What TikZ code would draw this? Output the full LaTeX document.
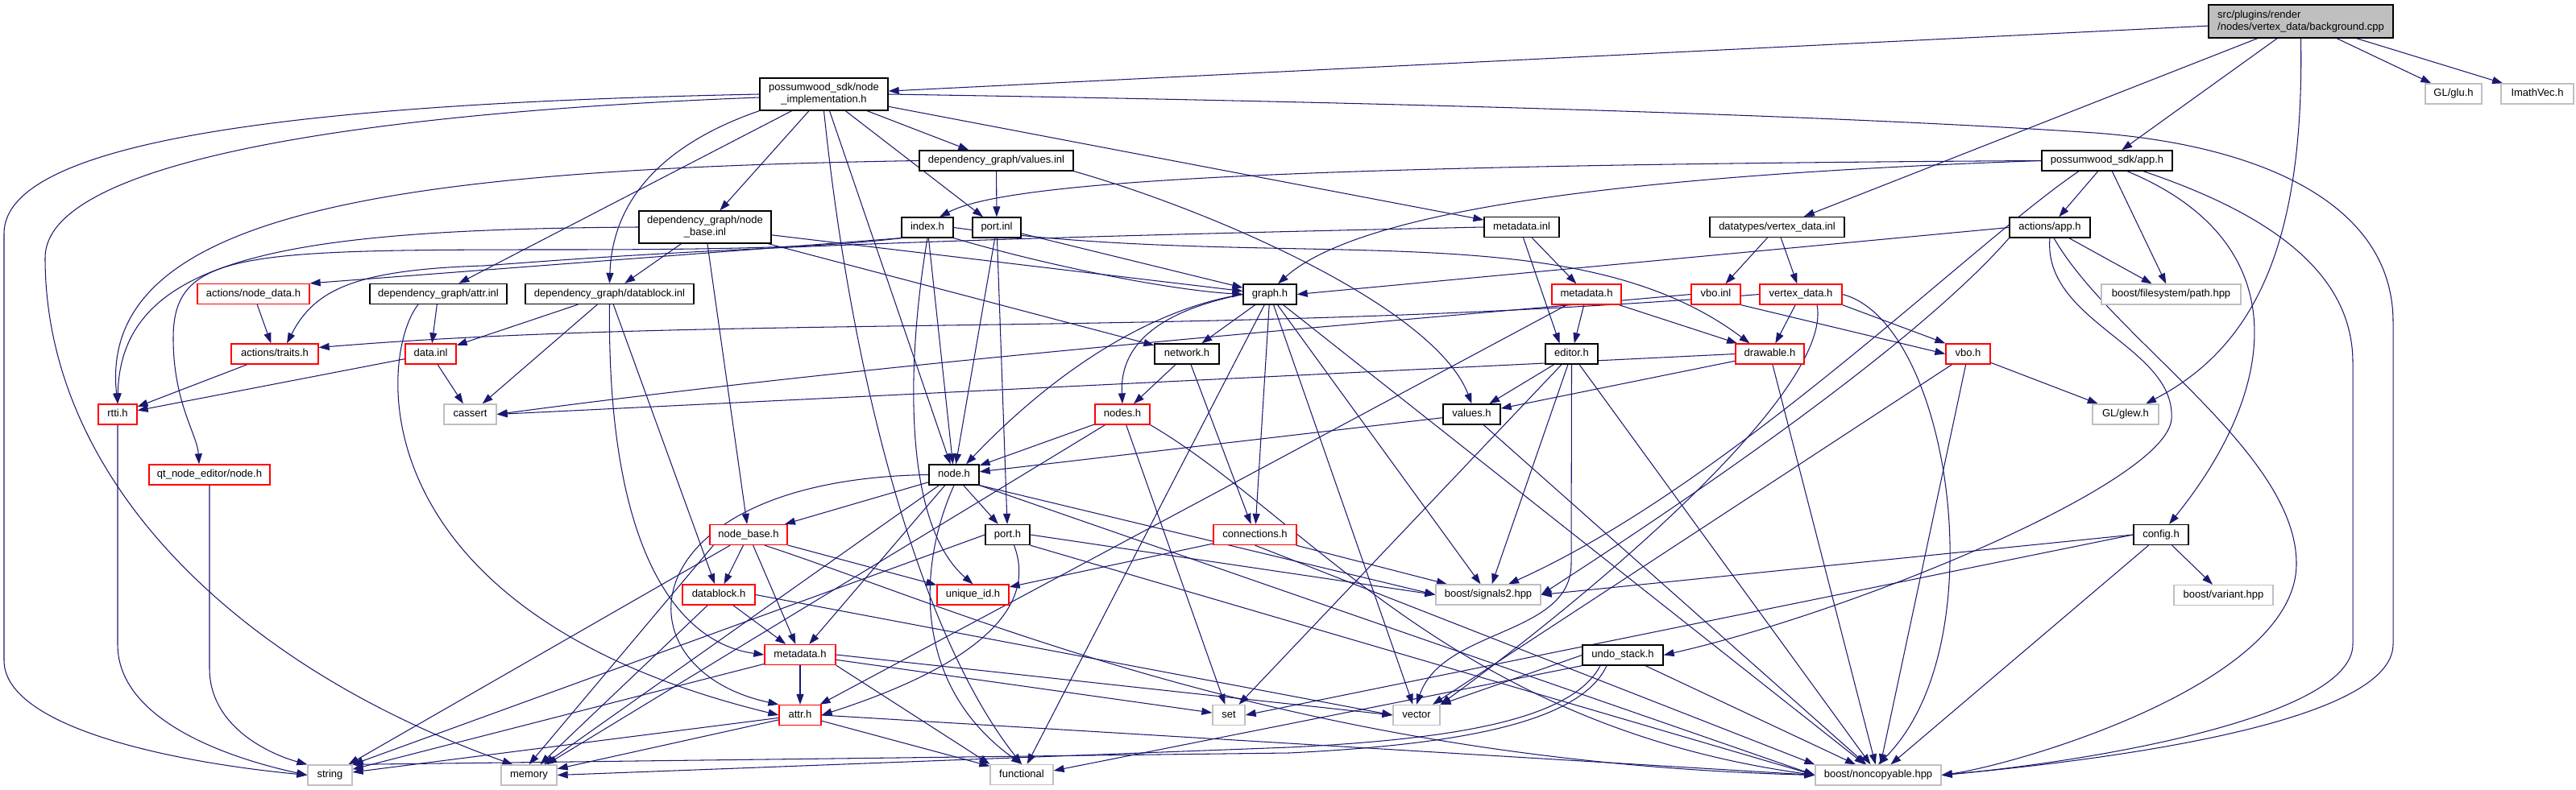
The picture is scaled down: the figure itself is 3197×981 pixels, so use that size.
\documentclass[tikz,border=0pt]{standalone}
\usepackage{fontspec}
\setmainfont{Liberation Sans}
\usetikzlibrary{arrows.meta}
\definecolor{navy}{HTML}{191970}
\definecolor{lgray}{HTML}{BFBFBF}
\definecolor{redc}{HTML}{FF0000}
\pgfdeclarelayer{edgelayer}
\pgfsetlayers{edgelayer,main}
\newcommand{\fs}{\fontsize{13}{15}\selectfont}
\tikzset{
  conn/.style={draw=navy, line width=1.05pt, -{Triangle[length=13pt,width=9pt]}},
  basebox/.style={draw=black, line width=1.3pt, fill=white, inner sep=0pt, font=\fs, minimum height=25pt},
  kbox/.style={basebox, text height=9.4pt, text depth=2.6pt},
  rbox/.style={kbox, draw=redc},
  gbox/.style={kbox, draw=lgray},
  kbox2/.style={basebox, minimum height=40pt, align=center},
  rootbox/.style={basebox, fill=lgray, minimum height=41pt, align=left},
}
\begin{document}
\begin{tikzpicture}[x=1pt,y=-1pt]
\useasboundingbox (0,0) rectangle (3197,981);

\node[rootbox, minimum width=229pt] (bg) at (2855.5,26.5) {src/plugins/render\\/nodes/vertex\_data/background.cpp};
\node[kbox2, minimum width=159pt] (ni) at (1022.5,117) {possumwood\_sdk/node\\\_implementation.h};
\node[kbox, minimum width=191pt] (valinl) at (1236.5,199.5) {dependency\_graph/values.inl};
\node[kbox2, minimum width=164pt] (nbinl) at (875,282) {dependency\_graph/node\\\_base.inl};
\node[kbox, minimum width=64pt] (ix) at (1151,282.5) {index.h};
\node[kbox, minimum width=60pt] (portinl) at (1237,282.5) {port.inl};
\node[kbox, minimum width=66pt] (graph) at (1576,365.5) {graph.h};
\node[kbox, minimum width=80pt] (network) at (1473,439.5) {network.h};
\node[kbox, minimum width=93pt] (metainl) at (1888.5,282) {metadata.inl};
\node[kbox, minimum width=167pt] (vdi) at (2205.5,282) {datatypes/vertex\_data.inl};
\node[rbox, minimum width=86pt] (metah2) at (1969,365.5) {metadata.h};
\node[rbox, minimum width=61pt] (vboinl) at (2129.5,365.5) {vbo.inl};
\node[rbox, minimum width=102pt] (vdh) at (2235,365.5) {vertex\_data.h};
\node[kbox, minimum width=65pt] (editor) at (1950.5,439.5) {editor.h};
\node[rbox, minimum width=85pt] (drawable) at (2196.5,439.5) {drawable.h};
\node[kbox, minimum width=162pt] (app) at (2615,199.5) {possumwood\_sdk/app.h};
\node[gbox, minimum width=70pt] (glu) at (3045,116.5) {GL/glu.h};
\node[gbox, minimum width=90pt] (imath) at (3149,116.5) {ImathVec.h};
\node[kbox, minimum width=100pt] (actapp) at (2544,282.5) {actions/app.h};
\node[gbox, minimum width=173pt] (path) at (2694.5,365.5) {boost/filesystem/path.hpp};
\node[rbox, minimum width=55pt] (vboh) at (2442.5,439.5) {vbo.h};
\node[gbox, minimum width=82pt] (glew) at (2638,514.5) {GL/glew.h};
\node[kbox, minimum width=68pt] (config) at (2682,664) {config.h};
\node[gbox, minimum width=123pt] (variant) at (2759.5,739) {boost/variant.hpp};
\node[kbox, minimum width=100pt] (undo) at (2014,813.5) {undo\_stack.h};
\node[gbox, minimum width=156pt] (noncopy) at (2331,962.5) {boost/noncopyable.hpp};
\node[gbox, minimum width=58pt] (vector) at (1758,888) {vector};
\node[gbox, minimum width=130pt] (signals2) at (1847,738.5) {boost/signals2.hpp};
\node[kbox, minimum width=71pt] (valuesh) at (1826.5,514.5) {values.h};
\node[rbox, minimum width=103pt] (connections) at (1557.5,664) {connections.h};
\node[rbox, minimum width=68pt] (nodes) at (1393,514.5) {nodes.h};
\node[kbox, minimum width=62pt] (nodeh) at (1184,589.5) {node.h};
\node[kbox, minimum width=55pt] (porth) at (1250.5,664) {port.h};
\node[rbox, minimum width=96pt] (nodebaseh) at (929,664) {node\_base.h};
\node[rbox, minimum width=90pt] (datablockh) at (892,738.5) {datablock.h};
\node[rbox, minimum width=89pt] (uniqueid) at (1207.5,738.5) {unique\_id.h};
\node[rbox, minimum width=88pt] (metah1) at (993,813) {metadata.h};
\node[rbox, minimum width=52pt] (attrh) at (993,888) {attr.h};
\node[gbox, minimum width=40pt] (set) at (1525,888) {set};
\node[gbox, minimum width=78pt] (functional) at (1268,962) {functional};
\node[gbox, minimum width=55pt] (string) at (409.5,962.5) {string};
\node[gbox, minimum width=69pt] (memory) at (656.5,962.5) {memory};
\node[rbox, minimum width=48pt] (rtti) at (146,514.5) {rtti.h};
\node[gbox, minimum width=65pt] (cassert) at (583.5,514.5) {cassert};
\node[rbox, minimum width=150pt] (qtnode) at (260,589.5) {qt\_node\_editor/node.h};
\node[rbox, minimum width=139pt] (nodedata) at (314.5,365) {actions/node\_data.h};
\node[kbox, minimum width=170pt] (attrinl) at (544,365) {dependency\_graph/attr.inl};
\node[kbox, minimum width=209pt] (dbinl) at (756.5,365) {dependency\_graph/datablock.inl};
\node[rbox, minimum width=108pt] (traits) at (341,439.5) {actions/traits.h};
\node[rbox, minimum width=63pt] (datainl) at (534.5,439.5) {data.inl};

\begin{pgfonlayer}{edgelayer}
% background.cpp
\draw[conn] (bg) -- (ni);
\draw[conn] (bg) -- (vdi);
\draw[conn] (bg) -- (app);
\draw[conn] (bg) -- (glu);
\draw[conn] (bg) -- (imath);
\draw[conn] (bg.south) .. controls (2860,300) and (2800,430) .. ([xshift=25pt]glew.north);
% node_implementation.h
\draw[conn] (ni.west) .. controls (400,128) and (5,170) .. (5,290) -- (5,820) .. controls (5,900) and (200,945) .. (string.west);
\draw[conn] ([yshift=-4pt]ni.west) .. controls (450,140) and (56,200) .. (56,320) .. controls (56,600) and (300,830) .. ([xshift=-20pt]memory.north);
\draw[conn] (ni.south) .. controls (1060,500) and (1150,800) .. (functional.north);
\draw[conn] (ni.east) .. controls (1800,128) and (2300,145) .. (2600,165) .. controls (2800,180) and (2970,250) .. (2970,400) -- (2970,800) .. controls (2970,900) and (2600,945) .. (noncopy.east);
\draw[conn] (ni) -- (attrinl);
\draw[conn] (ni.south west) .. controls (820,180) and (760,250) .. (dbinl.north);
\draw[conn] (ni) -- (nbinl);
\draw[conn] (ni) -- (nodeh);
\draw[conn] (ni) -- (portinl);
\draw[conn] (ni) -- (valinl);
\draw[conn] (ni) -- (metainl);
% values.inl
\draw[conn] (valinl.west) .. controls (500,210) and (120,260) .. (rtti.north);
\draw[conn] (valinl) -- (portinl);
\draw[conn] (valinl.south east) .. controls (1500,260) and (1780,380) .. (valuesh.north);
% node_base.inl
\draw[conn] (nbinl.west) .. controls (350,285) and (150,320) .. (rtti.north);
\draw[conn] (nbinl) -- (dbinl);
\draw[conn] (nbinl) -- (nodebaseh);
\draw[conn] (nbinl) -- (graph);
\draw[conn] (nbinl) -- (network);
% index.h
\draw[conn] (ix.south west) -- (nodedata.north east);
\draw[conn] (ix.south west) .. controls (1040,305) and (950,310) .. (700,310) .. controls (300,310) and (215,312) .. (215,420) .. controls (215,500) and (245,540) .. ([xshift=-13pt]qtnode.north);
\draw[conn] (ix) -- (nodeh);
\draw[conn] (ix.south) .. controls (1125,450) and (1120,650) .. (uniqueid.north);
\draw[conn] (ix.south east) .. controls (1300,330) and (1450,360) .. (graph.west);
\draw[conn] (ix.east) .. controls (1600,340) and (1950,260) .. ([xshift=-25pt]drawable.north);
% port.inl
\draw[conn] (portinl) -- (graph);
\draw[conn] (portinl) -- (nodeh);
\draw[conn] (portinl) -- (porth);
% metadata.inl
\draw[conn] (metainl.west) .. controls (1000,300) and (800,315) .. (600,330) .. controls (440,335) and (390,360) .. ([xshift=15pt]traits.north);
\draw[conn] ([xshift=2pt]metainl.south) -- ([xshift=-15pt]editor.north);
\draw[conn] (metainl) -- (metah2);
% vertex_data.inl
\draw[conn] (vdi) -- (vboinl);
\draw[conn] (vdi) -- (vdh);
% possumwood_sdk metadata.h
\draw[conn] (metah2) -- (editor);
\draw[conn] (metah2) -- (drawable);
\draw[conn] (metah2) -- (attrh);
% vbo.inl
\draw[conn] (vboinl.south east) -- (vboh.west);
\draw[conn] (vboinl.west) .. controls (1600,410) and (1100,450) .. (cassert.east);
% vertex_data.h
\draw[conn] (vdh) -- (drawable);
\draw[conn] (vdh.south east) -- (vboh.north west);
\draw[conn] (vdh.west) .. controls (1500,420) and (900,390) .. ([yshift=8pt]traits.east);
\draw[conn] ([xshift=20pt]vdh.south) .. controls (2275,480) and (2000,720) .. (vector.north east);
\draw[conn] (vdh.east) .. controls (2420,400) and (2480,800) .. (noncopy.north);
% drawable.h
\draw[conn] (drawable) -- (valuesh);
\draw[conn] (drawable.west) -- (cassert.east);
\draw[conn] (drawable) -- (noncopy);
% editor.h
\draw[conn] (editor) -- (valuesh);
\draw[conn] (editor) -- (signals2);
\draw[conn] (editor.south) -- (1950,700) .. controls (1950,790) and (1790,780) .. (vector.north);
\draw[conn] (editor) -- (set);
\draw[conn] (editor) -- (noncopy);
% values.h
\draw[conn] (valuesh) -- (nodeh);
\draw[conn] (valuesh) -- (noncopy);
% graph.h
\draw[conn] (graph) -- (network);
\draw[conn] (graph.west) .. controls (1420,390) and (1390,440) .. (nodes.north);
\draw[conn] (graph.west) .. controls (1420,385) and (1300,470) .. ([xshift=15pt]nodeh.north);
\draw[conn] (graph) -- (connections);
\draw[conn] (graph) -- (functional);
\draw[conn] (graph) -- (vector);
\draw[conn] (graph) -- (signals2);
\draw[conn] (graph) -- (noncopy);
% network.h
\draw[conn] (network) -- (nodes);
\draw[conn] (network) -- (connections);
% nodes.h
\draw[conn] (nodes) -- (nodeh);
\draw[conn] (nodes) -- (memory);
\draw[conn] (nodes) -- (set);
\draw[conn] (nodes.south east) .. controls (1620,640) and (1800,900) .. (noncopy.west);
% node.h
\draw[conn] (nodeh) -- (nodebaseh);
\draw[conn] (nodeh) -- (porth);
\draw[conn] (nodeh) -- (metah1);
\draw[conn] (nodeh.west) .. controls (780,595) and (760,830) .. (attrh.north west);
\draw[conn] (nodeh) -- (memory);
\draw[conn] (nodeh.south) .. controls (1140,700) and (1130,850) .. (functional.north);
\draw[conn] (nodeh.south east) -- (signals2.west);
\draw[conn] (nodeh.south east) -- (noncopy.west);
% port.h
\draw[conn] (porth.west) -- (string.north east);
\draw[conn] ([xshift=8pt]porth.south) .. controls (1290,760) and (1200,830) .. (attrh.east);
\draw[conn] (porth.east) -- (signals2.west);
\draw[conn] (porth.south east) -- (noncopy.west);
% node_base.h
\draw[conn] (nodebaseh) -- (string);
\draw[conn] ([xshift=5pt]nodebaseh.south west) -- (memory.north);
\draw[conn] (nodebaseh) -- (datablockh);
\draw[conn] (nodebaseh) -- (metah1);
\draw[conn] (nodebaseh) -- (uniqueid);
\draw[conn] ([xshift=20pt]nodebaseh.south) .. controls (1200,760) and (1600,945) .. (noncopy.west);
% datablock.h
\draw[conn] (datablockh) -- (metah1);
\draw[conn] (datablockh) -- (memory);
\draw[conn] (datablockh.east) -- (vector.west);
% dependency_graph metadata.h
\draw[conn] (metah1) -- (attrh);
\draw[conn] (metah1) -- (string);
\draw[conn] (metah1.south east) -- (functional.north west);
\draw[conn] (metah1) -- (set);
\draw[conn] (metah1.east) -- (vector.west);
% attr.h
\draw[conn] (attrh) -- (string);
\draw[conn] (attrh) -- (memory);
\draw[conn] (attrh) -- (functional);
\draw[conn] (attrh.east) -- (noncopy.west);
% connections.h
\draw[conn] (connections) -- (uniqueid);
\draw[conn] (connections) -- (signals2);
\draw[conn] (connections.south) -- (noncopy.north west);
% undo_stack.h
\draw[conn] (undo.west) -- (vector.north east);
\draw[conn] ([xshift=-20pt]undo.south) .. controls (1960,900) and (1800,925) .. (1600,935) -- (string.north east);
\draw[conn] ([xshift=-28pt]undo.south) .. controls (1950,895) and (1800,918) .. (1600,928) -- (memory.east);
\draw[conn] (undo.south west) -- ([yshift=5pt]functional.east);
\draw[conn] (undo) -- (noncopy);
% config.h
\draw[conn] (config) -- (variant);
\draw[conn] (config.west) -- (signals2.east);
\draw[conn] (config.west) -- (set.east);
\draw[conn] (config) -- (noncopy);
% app.h
\draw[conn] (app.west) .. controls (1600,205) and (1250,225) .. ([xshift=15pt]ix.north);
\draw[conn] (app.west) .. controls (2100,215) and (1700,250) .. ([xshift=10pt]graph.north);
\draw[conn] (app) -- (actapp);
\draw[conn] (app) -- (path);
\draw[conn] ([xshift=-35pt]app.south) .. controls (2450,300) and (2150,600) .. ([xshift=25pt]signals2.north);
\draw[conn] ([xshift=25pt]app.south) .. controls (2850,300) and (2830,480) .. ([xshift=10pt]config.north);
\draw[conn] ([xshift=45pt]app.south) .. controls (2800,260) and (2920,330) .. (2920,450) -- (2920,800) .. controls (2920,890) and (2600,945) .. (noncopy.east);
% actions/app.h
\draw[conn] (actapp.west) -- (graph.east);
\draw[conn] (actapp) -- (path);
\draw[conn] (actapp.south west) .. controls (2420,380) and (2250,520) .. (signals2.east);
\draw[conn] (actapp.south) .. controls (2535,400) and (2700,430) .. (2695,520) .. controls (2690,600) and (2300,760) .. (undo.east);
\draw[conn] ([xshift=5pt]actapp.south) .. controls (2620,420) and (2850,560) .. (2850,700) .. controls (2850,850) and (2500,950) .. (noncopy.east);
% vbo.h
\draw[conn] (vboh) -- (glew);
\draw[conn] (vboh) -- (vector);
\draw[conn] (vboh) -- (noncopy);
% left part
\draw[conn] (nodedata) -- (traits);
\draw[conn] (traits) -- (rtti);
\draw[conn] (datainl) -- (rtti);
\draw[conn] (datainl) -- (cassert);
\draw[conn] (attrinl) -- (datainl);
\draw[conn] ([xshift=-25pt]attrinl.south) .. controls (470,440) and (440,760) .. (attrh.west);
\draw[conn] (dbinl) -- (datainl);
\draw[conn] (dbinl) -- (cassert);
\draw[conn] (dbinl) -- (datablockh);
\draw[conn] (dbinl.south) .. controls (753,700) and (850,800) .. (metah1.west);
\draw[conn] (rtti.south) -- (146,800) .. controls (146,900) and (300,945) .. (string.west);
\draw[conn] (qtnode.south) -- (260,830) .. controls (260,900) and (330,935) .. (string.north west);
\end{pgfonlayer}
\end{tikzpicture}
\end{document}
